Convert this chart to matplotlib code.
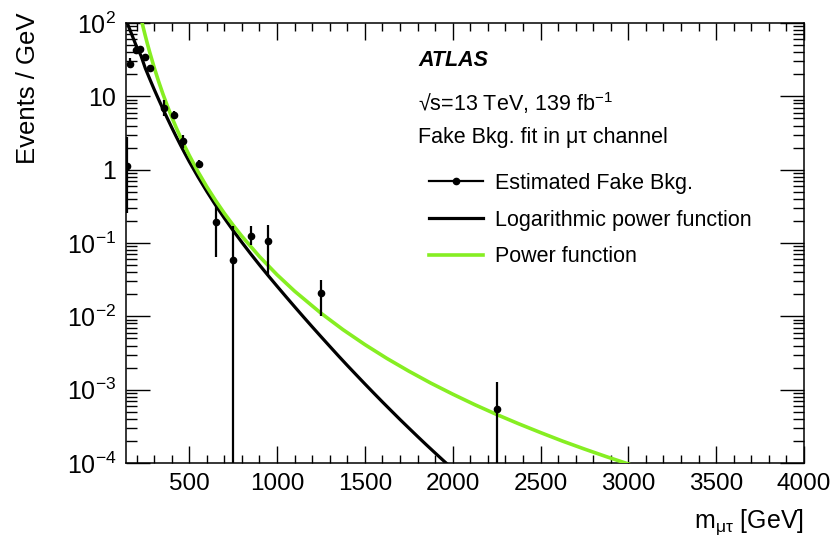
import matplotlib
matplotlib.use("Agg")
import matplotlib.pyplot as plt
from matplotlib.lines import Line2D
from matplotlib.ticker import FixedLocator, LogLocator, NullFormatter, FuncFormatter

plt.rcParams['font.family'] = ['Liberation Sans', 'DejaVu Sans']
plt.rcParams['mathtext.fontset'] = 'custom'
plt.rcParams['mathtext.rm'] = 'Liberation Sans'
plt.rcParams['mathtext.it'] = 'Liberation Sans:italic'
plt.rcParams['mathtext.bf'] = 'Liberation Sans:bold'

# estimated fake background, events / GeV, with asymmetric uncertainties
mass = [145, 165, 195, 217, 249, 274, 358, 411, 462, 553, 650, 750, 850, 950, 1250, 2250]
events = [1.13, 28, 43, 44, 34, 24.2, 6.9, 5.6, 2.45, 1.2, 0.193, 0.059, 0.126, 0.105, 0.0208, 5.5e-4]
err_hi = [2.8, 33, 48, 49, 38, 27, 9.0, 6.3, 3.0, 1.37, 0.314, 0.168, 0.171, 0.174, 0.0316, 1.26e-3]
err_lo = [0.26, 24.4, 39, 40, 30, 21.5, 5.4, 4.9, 1.98, 1.05, 0.0645, 1e-6, 0.094, 0.035, 0.010, 1e-6]

# fitted curves sampled along the mass axis
logpow_x = [140, 150, 160, 175, 190, 200, 225, 250, 275, 300, 325, 350, 375, 400, 425,
            450, 475, 500, 550, 600, 650, 700, 750, 800, 850, 900, 950, 1000, 1050,
            1100, 1150, 1200, 1250, 1300, 1350, 1400, 1450, 1500, 1550, 1600, 1650,
            1700, 1750, 1800, 1850, 1900, 1950, 2000]
logpow_y = [110, 95.8, 83.4, 67.7, 54.8, 47.7, 36.0, 24.1, 17.3, 12.5, 9.16, 6.75, 5.03,
            3.77, 2.85, 2.17, 1.67, 1.29, 0.796, 0.505, 0.328, 0.218, 0.148, 0.1019,
            0.0711, 0.0502, 0.0358, 0.02576, 0.01862, 0.01351, 9.84e-3, 7.20e-3, 5.29e-3,
            3.90e-3, 2.88e-3, 2.14e-3, 1.60e-3, 1.198e-3, 9.01e-4, 6.80e-4, 5.16e-4,
            3.92e-4, 3.00e-4, 2.30e-4, 1.77e-4, 1.37e-4, 1.063e-4, 8.29e-5]
pow_x = [220, 232, 240, 250, 260, 275, 300, 325, 350, 375, 400, 425, 450, 475, 500,
         550, 600, 650, 700, 750, 800, 900, 1000, 1100, 1250, 1375, 1500, 1625, 1750,
         1875, 2000, 2125, 2250, 2375, 2500, 2625, 2750, 2875, 3000]
pow_y = [133, 100, 83.2, 66.8, 54.0, 39.9, 24.9, 16.14, 10.8, 7.44, 5.25, 3.78, 2.78,
         2.07, 1.57, 0.937, 0.585, 0.380, 0.254, 0.175, 0.1235, 0.0653, 0.0369, 0.02204,
         0.01104, 6.59e-3, 4.12e-3, 2.67e-3, 1.79e-3, 1.23e-3, 8.69e-4, 6.25e-4, 4.59e-4,
         3.43e-4, 2.60e-4, 1.99e-4, 1.55e-4, 1.22e-4, 9.7e-5]

green = '#86ee22'

fig = plt.figure(figsize=(8.36, 5.36), dpi=100)
ax = fig.add_axes([126 / 836, 1 - 463 / 536, 678 / 836, 440 / 536])

ax.plot(logpow_x, logpow_y, color='black', lw=2.3, zorder=3)
ax.plot(pow_x, pow_y, color=green, lw=2.6, zorder=3)
yerr = [[v - lo for v, lo in zip(events, err_lo)], [hi - v for v, hi in zip(events, err_hi)]]
ax.errorbar(mass, events, yerr=yerr, fmt='o', color='black', ms=4.5,
            elinewidth=1.6, capsize=0, zorder=4)

ax.set_yscale('log')
ax.set_xlim(140, 4000)
ax.set_ylim(1e-4, 100)

ax.xaxis.set_major_locator(FixedLocator([500, 1000, 1500, 2000, 2500, 3000, 3500, 4000]))
ax.xaxis.set_minor_locator(FixedLocator(range(200, 4000, 100)))
ax.yaxis.set_major_locator(LogLocator(base=10, numticks=10))
ax.yaxis.set_minor_locator(LogLocator(base=10, subs=range(2, 10), numticks=20))
ax.yaxis.set_minor_formatter(NullFormatter())

ylabels = {100: '10$^{2}$', 10: '10', 1: '1', 0.1: '10$^{-1}$', 0.01: '10$^{-2}$',
           0.001: '10$^{-3}$', 0.0001: '10$^{-4}$'}


def yfmt(v, pos):
    for k, s in ylabels.items():
        if abs(v / k - 1) < 1e-6:
            return s
    return ''


ax.yaxis.set_major_formatter(FuncFormatter(yfmt))

ax.tick_params(which='both', direction='in', top=True, right=True, width=1.0)
ax.tick_params(axis='x', which='major', length=12, labelsize=17.5, pad=7)
ax.tick_params(axis='x', which='minor', length=6)
ax.tick_params(axis='y', which='major', length=17, labelsize=18, pad=7)
ax.tick_params(axis='y', which='minor', length=8)
for s in ax.spines.values():
    s.set_linewidth(1.1)

ax.set_ylabel('Events / GeV', fontsize=18.5, loc='top')
ax.yaxis.set_label_coords(-0.127, 1.025)
ax.set_xlabel('m$_{\\mathrm{μτ}}$ [GeV]', fontsize=18, loc='right')
ax.xaxis.set_label_coords(1.0, -0.1)

ax.text(418 / 836, 1 - 61 / 536, 'ATLAS', transform=fig.transFigure, fontsize=15.5,
        fontweight='bold', fontstyle='italic', va='center', ha='left')
ax.text(418 / 836, 1 - 103 / 536, '√s=13 TeV, 139 fb$^{-1}$', transform=fig.transFigure,
        fontsize=15.5, va='center', ha='left')
ax.text(418 / 836, 1 - 138 / 536, 'Fake Bkg. fit in μτ channel', transform=fig.transFigure,
        fontsize=15.5, va='center', ha='left')

handles = [
    Line2D([], [], color='black', lw=1.6, marker='o', ms=4.5),
    Line2D([], [], color='black', lw=2.3),
    Line2D([], [], color=green, lw=2.6),
]
labels = ['Estimated Fake Bkg.', 'Logarithmic power function', 'Power function']
ax.legend(handles, labels, loc='upper left', bbox_to_anchor=(429 / 836, 1 - 173 / 536),
          bbox_transform=fig.transFigure, frameon=False, fontsize=15.5, borderpad=0,
          handlelength=2.5, handletextpad=0.55, labelspacing=0.73, borderaxespad=0)

fig.savefig('out.png', dpi=100)
